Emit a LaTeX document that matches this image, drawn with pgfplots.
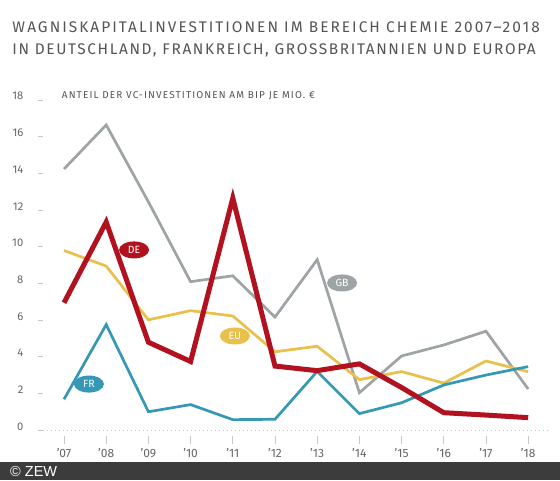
\documentclass[border=0pt]{standalone}
\usepackage{fontspec}
\setmainfont{Fira Sans}
\newfontfamily\zewfont{Liberation Sans}
\usepackage{pgfplots}
\pgfplotsset{compat=1.18}
\usetikzlibrary{shapes.geometric}
\definecolor{deRed}{HTML}{B2121F}
\definecolor{gbGray}{HTML}{9EA3A6}
\definecolor{euYellow}{HTML}{E8C04A}
\definecolor{frTeal}{HTML}{3598B4}
\definecolor{titleGray}{HTML}{555555}
\definecolor{labGray}{HTML}{666666}
\definecolor{tickGray}{HTML}{C8C8C8}
\definecolor{barGray}{HTML}{3C3C3C}
\begin{document}
\begin{tikzpicture}
\useasboundingbox (0pt,0pt) rectangle (560pt,480pt);
\fill[white] (0pt,0pt) rectangle (560pt,480pt);
\fill[barGray] (0pt,0pt) rectangle (560pt,18pt);
\node[anchor=base west, inner sep=0, text=white, font=\zewfont\fontsize{14.5}{14.5}\selectfont] at (10pt,3.3pt) {© ZEW};
\node[anchor=base west, inner sep=0, text=titleGray, font=\fontsize{15.4}{15.4}\selectfont\addfontfeature{LetterSpace=13.3}] at (12.3pt,447.7pt) {WAGNISKAPITALINVESTITIONEN IM BEREICH CHEMIE 2007–2018};
\node[anchor=base west, inner sep=0, text=titleGray, font=\fontsize{15.4}{15.4}\selectfont\addfontfeature{LetterSpace=10.6}] at (12.3pt,425pt) {IN DEUTSCHLAND, FRANKREICH, GROSSBRITANNIEN UND EUROPA};
\node[anchor=base west, inner sep=0, text=titleGray, font=\fontsize{10}{10}\selectfont\addfontfeature{LetterSpace=11.3}] at (61.7pt,381pt) {ANTEIL DER VC-INVESTITIONEN AM BIP JE MIO. €};
\begin{axis}[
  scale only axis, width=505pt, height=330.3pt,
  at={(43pt,49.7pt)}, anchor=south west,
  xmin=2006.502, xmax=2018.47, ymin=0, ymax=18,
  axis line style={draw=none},
  clip=false,
  xtick={2007,...,2018},
  xticklabels={{\char39 07},{\char39 08},{\char39 09},{\char39 10},{\char39 11},{\char39 12},{\char39 13},{\char39 14},{\char39 15},{\char39 16},{\char39 17},{\char39 18}},
  ytick={0,2,...,18},
  tick align=outside, major tick length=5pt,
  xtick pos=bottom, ytick pos=left,
  ytick style={tickGray, line width=0.9pt},
  xtick style={draw=none},
  /pgf/number format/assume math mode=true,
  yticklabel style={font=\fontsize{11.2}{11.2}\selectfont, text=labGray, anchor=base east, inner sep=0pt, xshift=-14.5pt},
  xticklabel style={font=\fontsize{12}{12}\selectfont, text=labGray, anchor=base, inner sep=0pt, yshift=-22pt},
]
\draw[tickGray, line width=0.9pt, dash pattern=on 1pt off 3pt] (axis cs:2006.502,0) -- (axis cs:2018.47,0);
\foreach \yr in {2007,...,2018}{
  \edef\tmp{\noexpand\draw[tickGray, line width=0.9pt] (axis cs:\yr,-0.31) -- (axis cs:\yr,-0.75);}\tmp
}
% GB
\addplot[gbGray, line width=2.7pt, line join=miter, no markers] coordinates {
 (2007,14.24) (2008,16.64) (2009,12.45) (2010,8.1) (2011,8.42) (2012,6.17)
 (2013,9.30) (2014,2.05) (2015,4.05) (2016,4.65) (2017,5.40) (2018,2.25)};
% EU
\addplot[euYellow, line width=2.7pt, line join=miter, no markers] coordinates {
 (2007,9.80) (2008,8.95) (2009,6.02) (2010,6.52) (2011,6.23) (2012,4.28)
 (2013,4.58) (2014,2.76) (2015,3.20) (2016,2.57) (2017,3.78) (2018,3.19)};
% FR
\addplot[frTeal, line width=2.7pt, line join=miter, no markers] coordinates {
 (2007,1.69) (2008,5.76) (2009,1.01) (2010,1.40) (2011,0.58) (2012,0.60)
 (2013,3.21) (2014,0.91) (2015,1.50) (2016,2.47) (2017,3.01) (2018,3.47)};
% DE
\addplot[deRed, line width=5pt, line join=miter, no markers] coordinates {
 (2007,6.95) (2008,11.35) (2009,4.80) (2010,3.75) (2011,12.65) (2012,3.50)
 (2013,3.25) (2014,3.62) (2015,2.33) (2016,0.96) (2017,0.83) (2018,0.69)};
\node[ellipse, fill=deRed, text=white, minimum width=30pt, minimum height=17pt, inner sep=0pt, font=\fontsize{10.5}{10.5}\selectfont] at (axis cs:2008.66,9.83) {DE};
\node[ellipse, fill=euYellow, text=white, minimum width=30pt, minimum height=17pt, inner sep=0pt, font=\fontsize{10.5}{10.5}\selectfont] at (axis cs:2011.05,5.14) {EU};
\node[ellipse, fill=frTeal, text=white, minimum width=30pt, minimum height=17pt, inner sep=0pt, font=\fontsize{10.5}{10.5}\selectfont] at (axis cs:2007.59,2.52) {FR};
\node[ellipse, fill=gbGray, text=white, minimum width=30pt, minimum height=17pt, inner sep=0pt, font=\fontsize{10.5}{10.5}\selectfont] at (axis cs:2013.59,8.03) {GB};
\end{axis}
\end{tikzpicture}
\end{document}
